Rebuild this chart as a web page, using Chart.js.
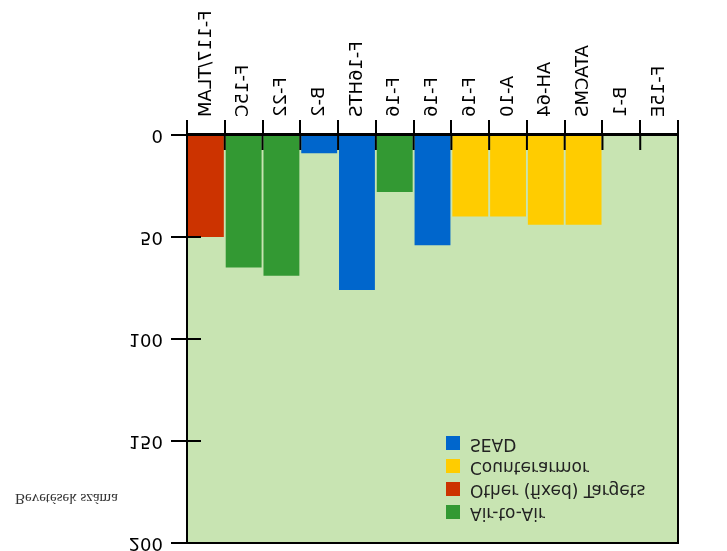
<!DOCTYPE html>
<html>
<head>
<meta charset="utf-8">
<script src="https://cdn.jsdelivr.net/npm/chart.js@4"></script>
<style>
  body { margin: 0; background: #fff; }
  /* the reference picture is mirrored top to bottom */
  #chart { display: block; transform: scaleY(-1); }
</style>
</head>
<body>
<canvas id="chart" width="727" height="551"></canvas>
<script>
const categories = ['F-117/TLAM', 'F-15C', 'F-22', 'B-2', 'F-16HTS', 'F-16', 'F-16', 'F-16', 'A-10', 'AH-64', 'ATACMS', 'B-1', 'F-15E'];
const sorties = [50, 65, 69, 9, 76, 28, 54, 40, 40, 44, 44, 0, 0];
const missionOf = ['Other (fixed) Targets', 'Air-to-Air', 'Air-to-Air', 'SEAD', 'SEAD', 'Air-to-Air', 'SEAD',
    'Counterarmor', 'Counterarmor', 'Counterarmor', 'Counterarmor', '', ''];
const missions = ['Air-to-Air', 'Other (fixed) Targets', 'Counterarmor', 'SEAD'];
const missionColors = ['#339933', '#cc3300', '#ffcc00', '#0066cc'];
const yTicks = [0, 50, 100, 150, 200];
const yTitle = 'Bevetések száma';

const plotBg = '#c8e4b2';

// one dataset per mission, stacked so every bar keeps the full category width
const datasets = missions.map((m, k) => ({
    label: m,
    data: sorties.map((v, i) => missionOf[i] === m ? v : null),
    backgroundColor: missionColors[k],
    barPercentage: 0.95,
    categoryPercentage: 1.0,
}));

const framePlugin = {
    id: 'frame',
    beforeDatasetsDraw(chart) {
        const { ctx, chartArea: a } = chart;
        ctx.save();
        ctx.fillStyle = plotBg;
        ctx.fillRect(a.left, a.top, a.right - a.left, a.bottom - a.top);
        ctx.restore();
    },
    afterDraw(chart) {
        const { ctx, chartArea: a, scales } = chart;
        ctx.save();
        ctx.strokeStyle = '#000';
        ctx.lineWidth = 2;
        ctx.strokeRect(a.left, a.top, a.right - a.left, a.bottom - a.top);

        // tick marks also reach into the plot
        ctx.beginPath();
        for (let i = 0; i < categories.length - 1; i++) {
            const x = (scales.x.getPixelForValue(i) + scales.x.getPixelForValue(i + 1)) / 2;
            ctx.moveTo(x, a.bottom);
            ctx.lineTo(x, a.bottom - 15);
        }
        yTicks.forEach(v => {
            const y = scales.y.getPixelForValue(v);
            ctx.moveTo(a.left, y);
            ctx.lineTo(a.left + 14, y);
        });
        ctx.stroke();

        // legend inside the plot
        ctx.font = '17px "DejaVu Sans"';
        ctx.textBaseline = 'middle';
        ctx.textAlign = 'left';
        missions.forEach((m, k) => {
            const y = 39 + k * 23;
            ctx.fillStyle = missionColors[k];
            ctx.fillRect(446, y - 7, 14, 14);
            ctx.fillStyle = '#222';
            ctx.fillText(m, 470, y);
        });

        // axis title, written level
        ctx.font = '15px "Liberation Serif"';
        ctx.fillStyle = '#333';
        ctx.fillText(yTitle, 15, 53);
        ctx.restore();
    }
};

new Chart(document.getElementById('chart'), {
    type: 'bar',
    data: { labels: categories, datasets: datasets },
    options: {
        responsive: false,
        animation: false,
        layout: { padding: { top: 8, right: 49, left: 0, bottom: 0 } },
        plugins: { legend: { display: false }, tooltip: { enabled: false } },
        scales: {
            x: {
                stacked: true,
                offset: true,
                grid: { offset: true, drawOnChartArea: false, tickLength: 15, color: '#000', lineWidth: 2 },
                border: { color: '#000', width: 3 },
                ticks: {
                    autoSkip: false, minRotation: 90, maxRotation: 90, padding: 3,
                    color: '#000', font: { family: 'DejaVu Sans', size: 18 }
                },
                afterFit: s => { s.height = 135; }
            },
            y: {
                stacked: true,
                min: 0,
                max: 200,
                afterBuildTicks: s => { s.ticks = yTicks.map(v => ({ value: v })); },
                grid: { drawOnChartArea: false, tickLength: 16, color: '#000', lineWidth: 2 },
                border: { color: '#000', width: 2 },
                ticks: { padding: 8, color: '#000', font: { family: 'DejaVu Sans', size: 18 } },
                afterFit: s => { s.width = 187; s.paddingTop = 0; s.paddingBottom = 0; }
            }
        }
    },
    plugins: [framePlugin]
});
</script>
</body>
</html>
